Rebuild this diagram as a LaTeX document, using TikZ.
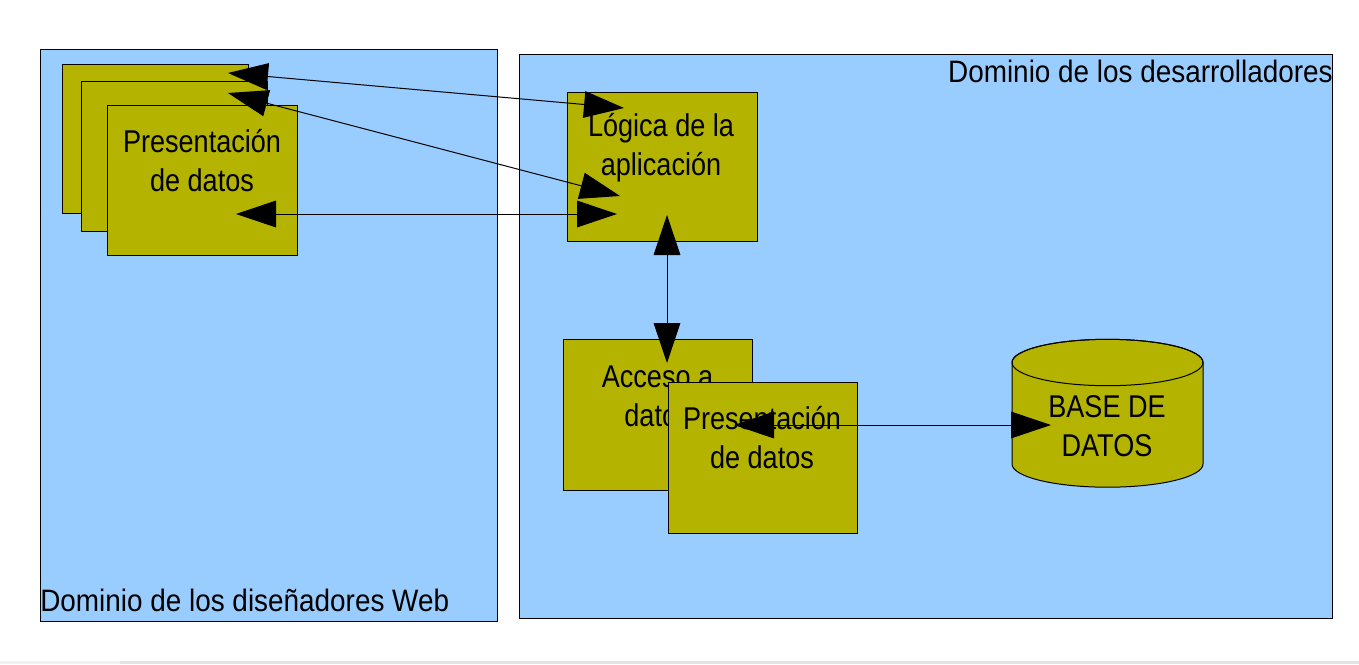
\documentclass[tikz,border=0pt]{standalone}
\usepackage{fontspec}
\newfontfamily\labfont{Liberation Sans}[FakeStretch=0.9]
\newfontfamily\boxfont{Liberation Sans}[FakeStretch=0.86]
\usetikzlibrary{arrows.meta}
\definecolor{domblue}{HTML}{99CCFF}
\definecolor{boxolive}{HTML}{B3B300}
\begin{document}
\begin{tikzpicture}[x=0.75pt,y=-0.75pt,
  dom/.style={draw=black, fill=domblue, line width=0.75pt, inner sep=0pt},
  obox/.style={draw=black, fill=boxolive, line width=0.75pt, inner sep=0pt},
  txt/.style={inner sep=0pt, align=center, font=\boxfont\fontsize{23.6pt}{28.9pt}\selectfont},
  domtxt/.style={inner sep=0pt, font=\labfont\fontsize{23.25pt}{28pt}\selectfont},
  link/.style={line width=0.75pt, {Triangle[length=30pt,width=20pt]}-{Triangle[length=30pt,width=20pt]}}]
\useasboundingbox (0,0) rectangle (1359,664);
\fill[white] (0,0) rectangle (1359,664);
\fill[gray!10] (0,661) rectangle (120,664);
\fill[gray!22] (120,661) rectangle (1359,664);
% domains
\node[dom, minimum width=342.75pt, minimum height=429pt] (webdom) at (269,335) {};
\node[dom, minimum width=609.75pt, minimum height=423pt] (devdom) at (925.5,336) {};
% stacked presentation boxes
\node[obox, minimum width=139.5pt, minimum height=111.75pt] (p1) at (155,138.5) {};
\node[obox, minimum width=139.5pt, minimum height=112.5pt] (p2) at (174,156) {};
\node[obox, minimum width=142.5pt, minimum height=112.5pt] (p3) at (202,180) {};
\node[txt, anchor=base] (t3) at (202,191.5) {Presentación\\de datos};
% logic
\node[obox, minimum width=142.5pt, minimum height=111.75pt] (logic) at (662,166.5) {};
\node[txt, anchor=base] (tl) at (661,175.5) {Lógica de la\\aplicación};
% data access
\node[obox, minimum width=141.75pt, minimum height=113.25pt] (acc) at (657.5,414.5) {};
\node[txt, anchor=base] (ta) at (657.5,426) {Acceso a\\datos};
\node[obox, minimum width=141.75pt, minimum height=113.25pt] (pres) at (762.5,457.5) {};
\node[txt, anchor=base] (tp) at (762,468.3) {Presentación\\de datos};
% database cylinder
\filldraw[fill=boxolive, line width=0.75pt] (1012,362.5) -- (1012,464)
  arc[start angle=180, end angle=360, x radius=71.625pt, y radius=17.4pt]
  -- (1203,362.5)
  arc[start angle=0, end angle=180, x radius=71.625pt, y radius=17.4pt] -- cycle;
\draw[line width=0.75pt] (1107.5,362.5) ellipse[x radius=71.625pt, y radius=17.4pt];
\node[txt, anchor=base] (db) at (1107,456) {BASE DE\\DATOS};
% connector ends
\coordinate (a1l) at (228,73);  \coordinate (a1r) at (624,108);
\coordinate (a2l) at (228,93);  \coordinate (a2r) at (620,196);
\coordinate (a3l) at (236,214); \coordinate (a3r) at (617,214);
\coordinate (a4t) at (667,215); \coordinate (a4b) at (667,363);
\coordinate (a5l) at (734,425); \coordinate (a5r) at (1051,425);
\draw[link] (a1l) -- (a1r);
\draw[link] (a2l) -- (a2r);
\draw[link] (a3l) -- (a3r);
\draw[link] (a4t) -- (a4b);
\draw[link] (a5l) -- (a5r);
% domain labels
\node[domtxt, anchor=base east] (dd) at (1333,82) {Dominio de los desarrolladores};
\node[domtxt, anchor=base west] (dw) at (40,611) {Dominio de los diseñadores Web};
\end{tikzpicture}
\end{document}
